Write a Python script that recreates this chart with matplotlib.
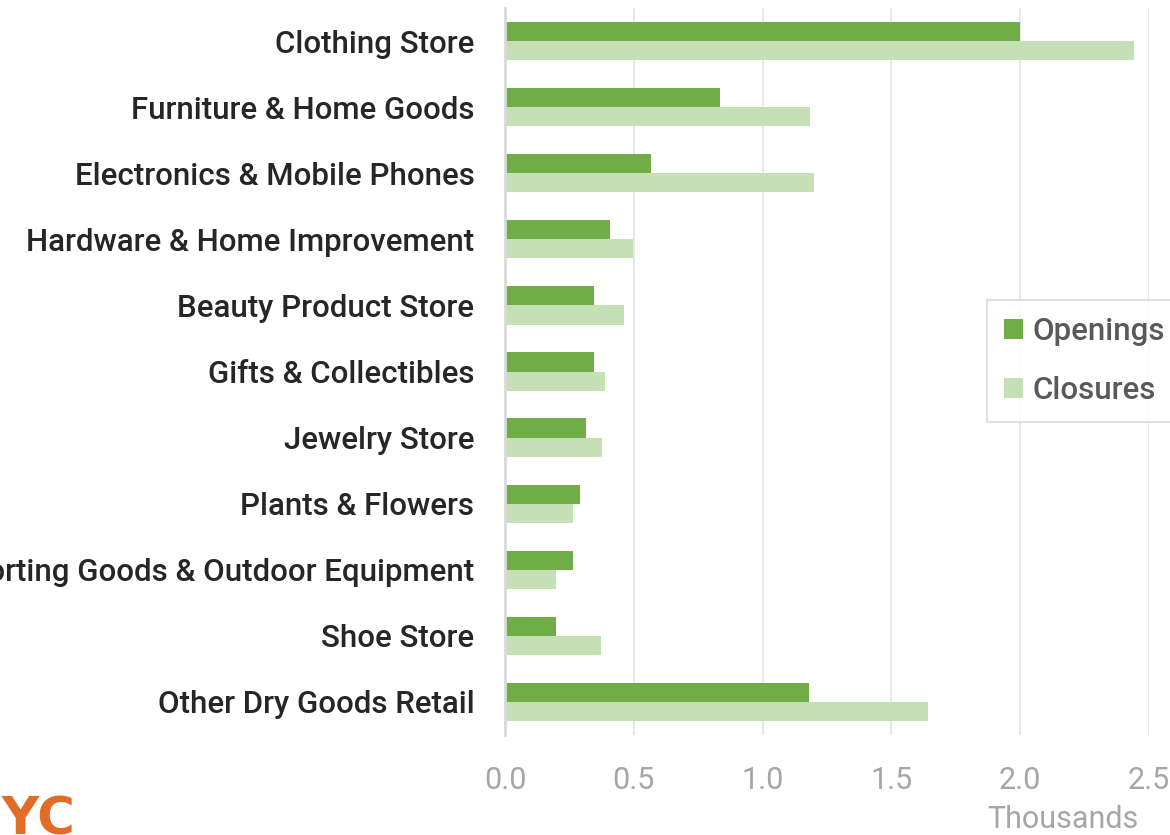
import matplotlib.pyplot as plt
import numpy as np

plt.rcParams["font.family"] = ["Roboto", "DejaVu Sans"]

categories = [
    "Clothing Store",
    "Furniture & Home Goods",
    "Electronics & Mobile Phones",
    "Hardware & Home Improvement",
    "Beauty Product Store",
    "Gifts & Collectibles",
    "Jewelry Store",
    "Plants & Flowers",
    "Sporting Goods & Outdoor Equipment",
    "Shoe Store",
    "Other Dry Goods Retail",
]
openings = [2.00, 0.835, 0.567, 0.408, 0.346, 0.346, 0.315, 0.291, 0.264, 0.198, 1.18]
closures = [2.443, 1.184, 1.20, 0.497, 0.462, 0.388, 0.377, 0.264, 0.198, 0.373, 1.643]
xticks = [0.0, 0.5, 1.0, 1.5, 2.0, 2.5]

OPEN_COLOR = "#70AD47"
CLOSE_COLOR = "#C5E0B4"

fig = plt.figure(figsize=(11.7, 8.35), dpi=100)
ax = fig.add_axes([505 / 1170, 1 - 735 / 835, (1149 - 505) / 1170, (735 - 8) / 835])

y = np.arange(len(categories))
h = 0.29
ax.barh(y - h / 2, openings, height=h, color=OPEN_COLOR, label="Openings", zorder=3)
ax.barh(y + h / 2, closures, height=h, color=CLOSE_COLOR, label="Closures", zorder=3)

ax.set_ylim(len(categories) - 0.5, -0.5)
ax.set_xlim(0, 2.5)
ax.set_yticks(y)
ax.set_yticklabels(categories, fontsize=22.5, color="#262626", fontweight="medium")
ax.set_xticks(xticks)
ax.set_xticklabels([f"{t:.1f}" for t in xticks], fontsize=22, color="#a6a6a6")
ax.tick_params(axis="both", length=0)
ax.tick_params(axis="y", pad=22)
ax.tick_params(axis="x", pad=22)

ax.grid(axis="x", color="#e8e8e8", linewidth=1.5, zorder=0)
for s in ["top", "right", "bottom"]:
    ax.spines[s].set_visible(False)
ax.spines["left"].set_color("#d9d9d9")
ax.spines["left"].set_linewidth(2)
ax.spines["left"].set_zorder(4)

leg = ax.legend(loc="upper left", bbox_to_anchor=((987 - 505) / 644, 1 - (300 - 8) / 727),
                borderaxespad=0, frameon=True, fancybox=False,
                edgecolor="#d9d9d9", handlelength=0.6, handleheight=0.6,
                handletextpad=0.3, labelspacing=0.95, borderpad=0.55,
                labelcolor="#595959", prop={"size": 22.5, "weight": "medium"})
leg.get_frame().set_linewidth(1.5)

fig.text(1063 / 1170, 1 - 820 / 835, "Thousands", fontsize=22, color="#a6a6a6",
         ha="center", va="center")
fig.text(-0.035, -0.012, "NYC", fontsize=37, fontweight="bold", family="DejaVu Sans",
         color="#E06C27", ha="left", va="bottom")

fig.savefig("out.png", dpi=100)
